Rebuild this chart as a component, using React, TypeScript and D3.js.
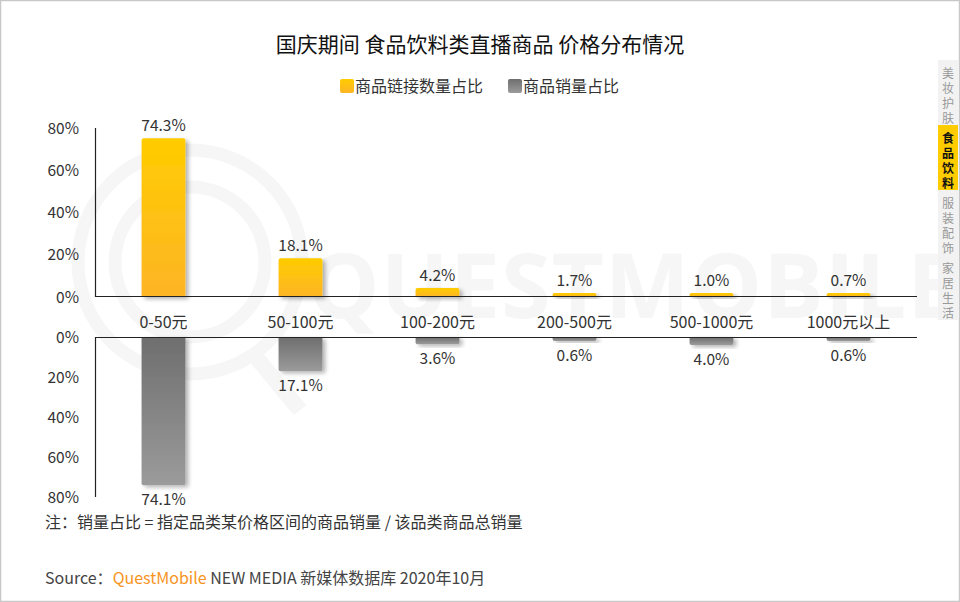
import React from "react";
import * as d3 from "d3";

const categories = ["0-50元", "50-100元", "100-200元", "200-500元", "500-1000元", "1000元以上"];
const linkShare = [74.3, 18.1, 4.2, 1.7, 1.0, 0.7];
const salesShare = [74.1, 17.1, 3.6, 0.6, 4.0, 0.6];
const yTicks = [0, 20, 40, 60, 80];
const tabs = [
  { label: "美妆护肤", active: false },
  { label: "食品饮料", active: true },
  { label: "服装配饰", active: false },
  { label: "家居生活", active: false },
];

const W = 960;
const H = 602;
const FONT = "'Microsoft YaHei', 'Noto Sans CJK SC', 'Noto Sans', sans-serif";
const MIN_H = 4;

export default function App() {
  const x0 = 95;
  const x1 = 917;
  const x = d3.scaleBand<string>().domain(categories).range([x0, x1]).paddingInner(0.68).paddingOuter(0.34);
  const yTop = d3.scaleLinear().domain([0, 80]).range([297, 126]);
  const yBot = d3.scaleLinear().domain([0, 80]).range([337, 497]);
  const bw = x.bandwidth();

  return (
    <svg width={W} height={H} style={{ position: "absolute", left: 0, top: 0, background: "#fff" }} fontFamily={FONT}>
      <defs>
        <linearGradient id="gy" x1="0" y1="0" x2="0" y2="1">
          <stop offset="0" stopColor="#FFCC00" />
          <stop offset="1" stopColor="#FDB526" />
        </linearGradient>
        <linearGradient id="gg" x1="0" y1="0" x2="0" y2="1">
          <stop offset="0" stopColor="#6E6E6E" />
          <stop offset="1" stopColor="#9B9B9B" />
        </linearGradient>
        <filter id="sh" x="-30%" y="-50%" width="160%" height="200%">
          <feGaussianBlur in="SourceAlpha" stdDeviation="2" />
          <feOffset dx="3" dy="2" result="ob" />
          <feComponentTransfer>
            <feFuncA type="linear" slope="0.3" />
          </feComponentTransfer>
          <feMerge>
            <feMergeNode />
            <feMergeNode in="SourceGraphic" />
          </feMerge>
        </filter>
      </defs>

      <rect x={0.5} y={0.5} width={W - 1} height={H - 1} fill="#fff" stroke="#c8c8c8" strokeWidth={1.5} />

      {/* watermark */}
      <g fill="none" stroke="#f6f6f6" strokeWidth={13}>
        <circle cx={190} cy={262} r={112} />
        <circle cx={190} cy={262} r={75} />
        <path d="M 250 350 L 300 410" strokeWidth={16} />
      </g>
      <text x={308} y={318} fontSize={90} fontWeight={700} fill="#f6f6f6" fontFamily="'Open Sans', sans-serif" letterSpacing={1}>
        QUESTMOBILE
      </text>

      {/* title */}
      <text x={480} y={52} textAnchor="middle" fontSize={21} fill="#111" fontWeight={400}>
        国庆期间 食品饮料类直播商品 价格分布情况
      </text>

      {/* legend */}
      <rect x={340} y={79} width={14} height={14} rx={2} fill="url(#gy)" />
      <text x={355} y={91.5} fontSize={16} fill="#333">商品链接数量占比</text>
      <rect x={508} y={79} width={14} height={14} rx={2} fill="url(#gg)" />
      <text x={523} y={91.5} fontSize={16} fill="#333">商品销量占比</text>

      {/* tick labels */}
      {yTicks.map((t) => (
        <text key={"tt" + t} x={79} y={yTop(t) + 5.5 + t * 0.03} textAnchor="end" fontSize={15.5} fill="#333">
          {t}%
        </text>
      ))}
      {yTicks.map((t) => (
        <text key={"bt" + t} x={79} y={yBot(t) + 5.5} textAnchor="end" fontSize={15.5} fill="#333">
          {t}%
        </text>
      ))}

      {/* top bars */}
      {categories.map((c, i) => {
        const bx = x(c)!;
        const y0 = yTop(0);
        const y = Math.min(yTop(linkShare[i]), y0 - MIN_H);
        return (
          <g key={"tb" + c}>
            <path
              d={`M${bx},${y0} V${y + 2} Q${bx},${y} ${bx + 2},${y} H${bx + bw - 2} Q${bx + bw},${y} ${bx + bw},${y + 2} V${y0} Z`}
              fill="url(#gy)"
              filter="url(#sh)"
            />
            <text x={bx + bw / 2} y={y - 7} textAnchor="middle" fontSize={15.5} fill="#333">
              {linkShare[i].toFixed(1)}%
            </text>
          </g>
        );
      })}

      {/* bottom bars */}
      {categories.map((c, i) => {
        const bx = x(c)!;
        const y0 = yBot(0);
        const y = Math.max(yBot(salesShare[i]), y0 + MIN_H);
        return (
          <g key={"bb" + c}>
            <path
              d={`M${bx},${y0} V${y - 2} Q${bx},${y} ${bx + 2},${y} H${bx + bw - 2} Q${bx + bw},${y} ${bx + bw},${y - 2} V${y0} Z`}
              fill="url(#gg)"
              filter="url(#sh)"
            />
            <text x={bx + bw / 2} y={y + 20} textAnchor="middle" fontSize={15.5} fill="#333">
              {salesShare[i].toFixed(1)}%
            </text>
          </g>
        );
      })}

      {/* axes */}
      <line x1={x0} x2={x1} y1={yTop(0) - 0.5} y2={yTop(0) - 0.5} stroke="#222" strokeWidth={1.2} />
      <line x1={x0 + 0.5} x2={x0 + 0.5} y1={128} y2={yTop(0)} stroke="#222" strokeWidth={1.2} />
      <line x1={x0} x2={x1} y1={yBot(0) + 0.5} y2={yBot(0) + 0.5} stroke="#222" strokeWidth={1.2} />
      <line x1={x0 + 0.5} x2={x0 + 0.5} y1={yBot(0)} y2={yBot(80)} stroke="#222" strokeWidth={1.2} />

      {/* category labels */}
      {categories.map((c) => (
        <text key={"cl" + c} x={x(c)! + bw / 2} y={328} textAnchor="middle" fontSize={16} fill="#333">
          {c}
        </text>
      ))}

      {/* note & source */}
      <text x={45} y={528} fontSize={16} fill="#333">
        注：销量占比 = 指定品类某价格区间的商品销量 / 该品类商品总销量
      </text>
      <text x={45} y={584} fontSize={16} fill="#444">
        Source：<tspan fill="#F7941D">QuestMobile</tspan> NEW MEDIA 新媒体数据库 2020年10月
      </text>

      {/* side tabs */}
      <rect x={938} y={60} width={20} height={260} fill="#f2f2f2" />
      {tabs.map((t, i) => {
        const ty = 60 + i * 65;
        return (
          <g key={t.label}>
            {t.active && <rect x={938} y={ty} width={20} height={65} fill="#FFCC00" />}
            {t.label.split("").map((ch, j) => (
              <text
                key={j}
                x={948}
                y={ty + 18 + j * 15}
                textAnchor="middle"
                fontSize={12}
                fontWeight={t.active ? 700 : 400}
                fill={t.active ? "#111" : "#999"}
              >
                {ch}
              </text>
            ))}
          </g>
        );
      })}
    </svg>
  );
}
